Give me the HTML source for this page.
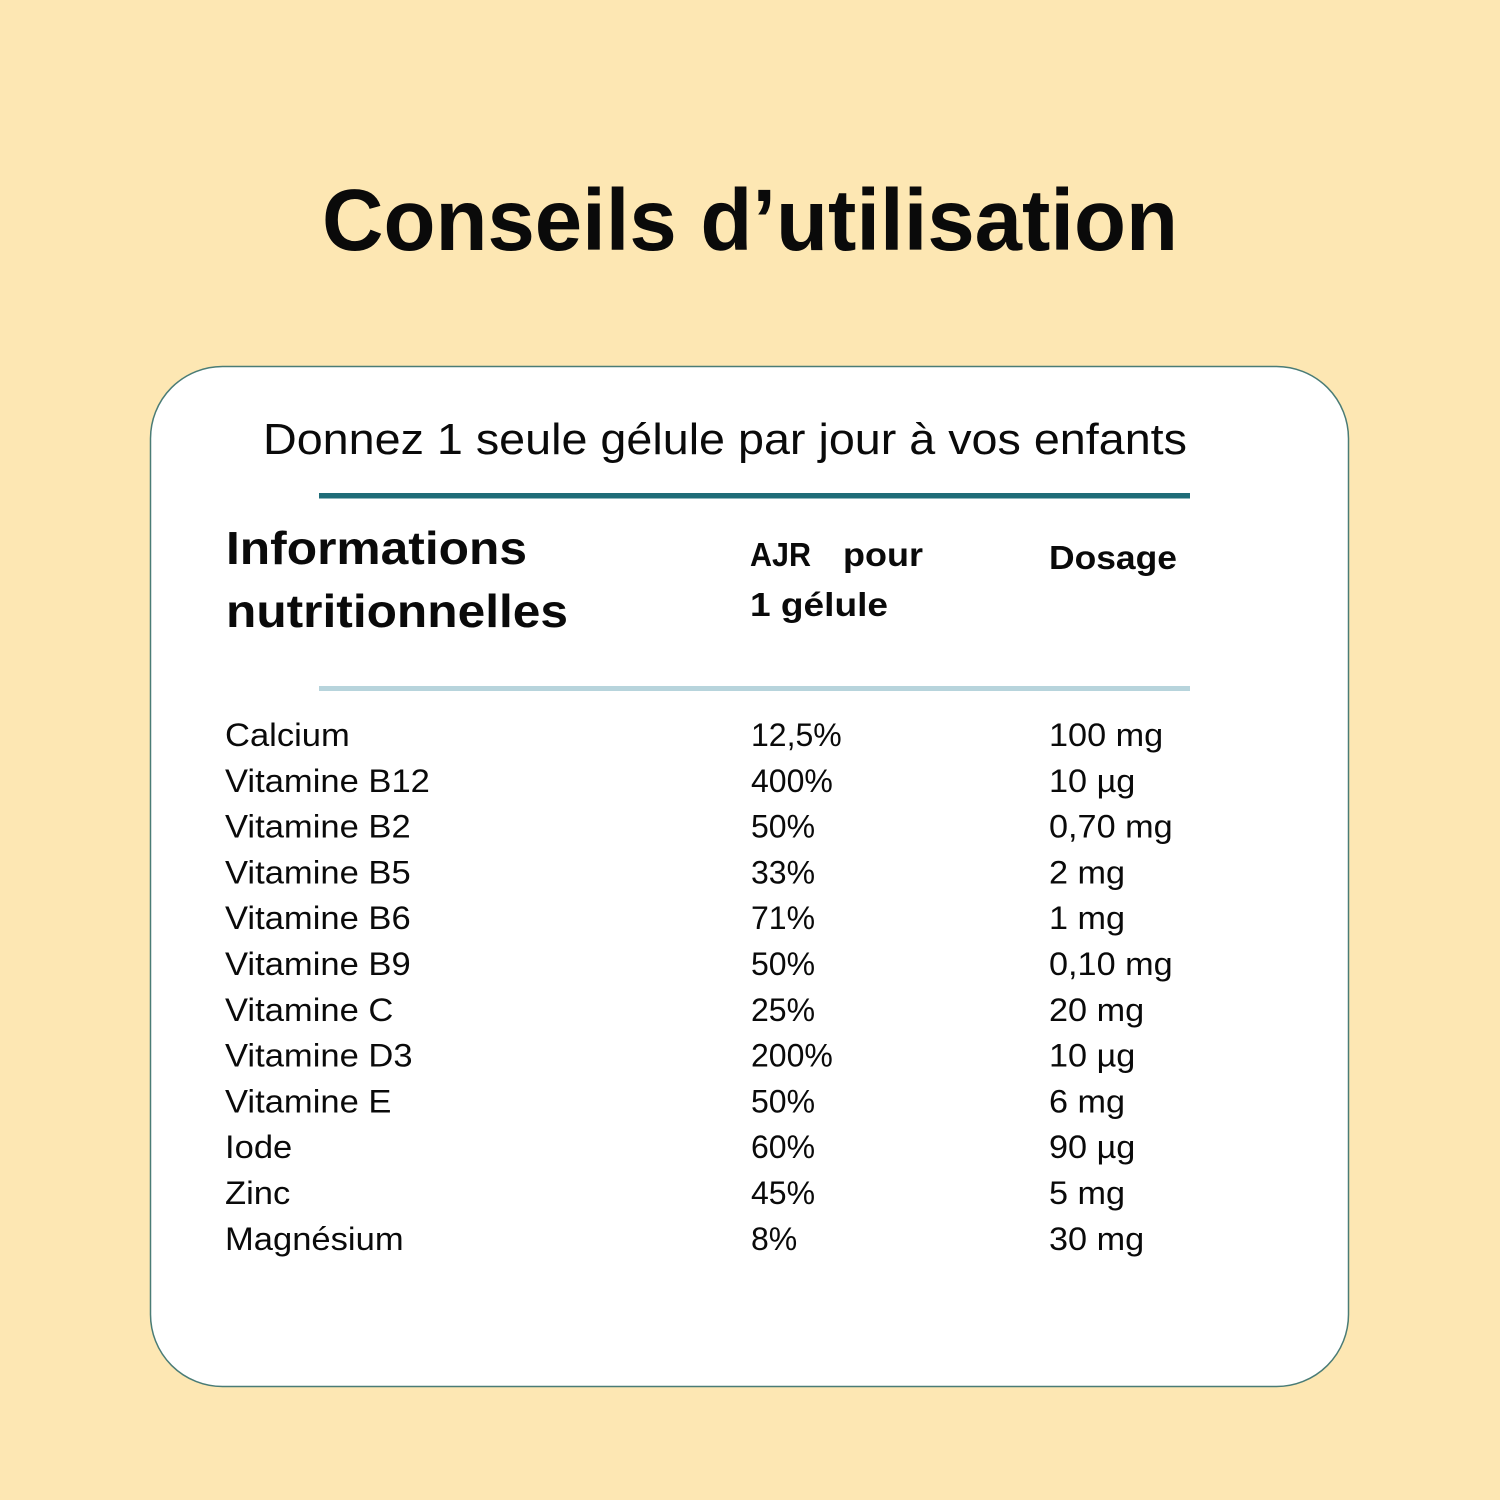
<!DOCTYPE html>
<html>
<head>
<meta charset="utf-8">
<style>
  html, body { margin: 0; padding: 0; background: #FDE7B3; }
  svg { display: block; }
  text { font-family: "Liberation Sans", "DejaVu Sans", sans-serif; fill: #0a0a0a; }
</style>
</head>
<body>
<svg width="1500" height="1500" viewBox="0 0 1500 1500" xmlns="http://www.w3.org/2000/svg">
  <rect x="0" y="0" width="1500" height="1500" fill="#FDE7B3"/>

  <!-- Title -->
  <text x="322" y="250" font-size="87" font-weight="bold" textLength="856" lengthAdjust="spacingAndGlyphs">Conseils d’utilisation</text>

  <!-- Card -->
  <rect x="150.5" y="366.5" width="1198" height="1020" rx="72" ry="72" fill="#FFFFFF" stroke="#4a7c76" stroke-width="1.5"/>

  <!-- Subtitle -->
  <text x="263" y="454" font-size="44" textLength="924" lengthAdjust="spacingAndGlyphs">Donnez 1 seule gélule par jour à vos enfants</text>

  <!-- Top rule -->
  <rect x="319" y="493" width="871" height="5.5" fill="#1f6c78"/>

  <!-- Header -->
  <text x="226" y="564" font-size="46" font-weight="bold" textLength="301" lengthAdjust="spacingAndGlyphs">Informations</text>
  <text x="226" y="627" font-size="46" font-weight="bold" textLength="342" lengthAdjust="spacingAndGlyphs">nutritionnelles</text>

  <text x="750" y="566" font-size="33" font-weight="bold" textLength="61" lengthAdjust="spacingAndGlyphs">AJR</text>
  <text x="843" y="566" font-size="33" font-weight="bold" textLength="80" lengthAdjust="spacingAndGlyphs">pour</text>
  <text x="750" y="616" font-size="33" font-weight="bold" textLength="138" lengthAdjust="spacingAndGlyphs">1 gélule</text>
  <text x="1049" y="569" font-size="33" font-weight="bold" textLength="128" lengthAdjust="spacingAndGlyphs">Dosage</text>

  <!-- Light rule -->
  <rect x="319" y="686" width="871" height="5" fill="#b7d4dc"/>

  <!-- Column 1 -->
  <g transform="translate(225,0) scale(1.08,1)" font-size="32">
    <text x="0" y="746">Calcium</text>
    <text x="0" y="791.8">Vitamine B12</text>
    <text x="0" y="837.6">Vitamine B2</text>
    <text x="0" y="883.4">Vitamine B5</text>
    <text x="0" y="929.2">Vitamine B6</text>
    <text x="0" y="975">Vitamine B9</text>
    <text x="0" y="1020.8">Vitamine C</text>
    <text x="0" y="1066.6">Vitamine D3</text>
    <text x="0" y="1112.4">Vitamine E</text>
    <text x="0" y="1158.2">Iode</text>
    <text x="0" y="1204">Zinc</text>
    <text x="0" y="1249.8">Magnésium</text>
  </g>

  <!-- Column 2 -->
  <g transform="translate(751,0) scale(1.0,1)" font-size="32">
    <text x="0" y="746">12,5%</text>
    <text x="0" y="791.8">400%</text>
    <text x="0" y="837.6">50%</text>
    <text x="0" y="883.4">33%</text>
    <text x="0" y="929.2">71%</text>
    <text x="0" y="975">50%</text>
    <text x="0" y="1020.8">25%</text>
    <text x="0" y="1066.6">200%</text>
    <text x="0" y="1112.4">50%</text>
    <text x="0" y="1158.2">60%</text>
    <text x="0" y="1204">45%</text>
    <text x="0" y="1249.8">8%</text>
  </g>

  <!-- Column 3 -->
  <g transform="translate(1049,0) scale(1.07,1)" font-size="32">
    <text x="0" y="746">100 mg</text>
    <text x="0" y="791.8">10 µg</text>
    <text x="0" y="837.6">0,70 mg</text>
    <text x="0" y="883.4">2 mg</text>
    <text x="0" y="929.2">1 mg</text>
    <text x="0" y="975">0,10 mg</text>
    <text x="0" y="1020.8">20 mg</text>
    <text x="0" y="1066.6">10 µg</text>
    <text x="0" y="1112.4">6 mg</text>
    <text x="0" y="1158.2">90 µg</text>
    <text x="0" y="1204">5 mg</text>
    <text x="0" y="1249.8">30 mg</text>
  </g>
</svg>
</body>
</html>
